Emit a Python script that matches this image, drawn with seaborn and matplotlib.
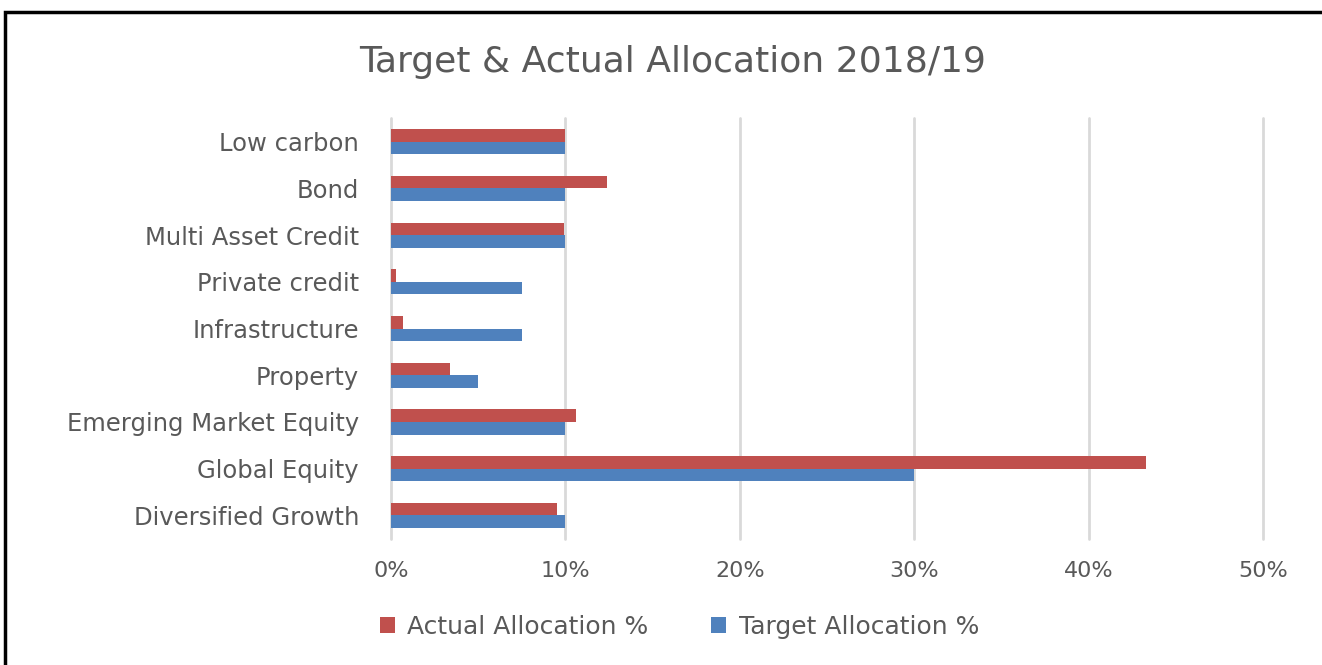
import pandas as pd
import matplotlib.pyplot as plt
import seaborn as sns
from matplotlib.patches import Rectangle
from matplotlib.ticker import PercentFormatter

categories = ["Low carbon", "Bond", "Multi Asset Credit", "Private credit",
              "Infrastructure", "Property", "Emerging Market Equity",
              "Global Equity", "Diversified Growth"]
actual = [10.0, 12.4, 9.9, 0.3, 0.7, 3.4, 10.6, 43.3, 9.5]
target = [10.0, 10.0, 10.0, 7.5, 7.5, 5.0, 10.0, 30.0, 10.0]
series = ["Actual Allocation %", "Target Allocation %"]
colors = ["#C0504D", "#4F81BD"]

df = pd.DataFrame({
    "category": categories * 2,
    "value": actual + target,
    "series": [series[0]] * len(categories) + [series[1]] * len(categories),
})

sns.set_style("white")
plt.rcParams["font.family"] = ["DejaVu Sans"]
text_color = "#595959"

fig = plt.figure(figsize=(13.22, 6.65), dpi=100)
ax = fig.add_axes([0.2958, 0.19, 0.6596, 0.632])

sns.barplot(data=df, x="value", y="category", hue="series", order=categories,
            hue_order=series, palette=colors, width=0.54, orient="h",
            ax=ax, saturation=1, edgecolor="none")

ax.set_xlim(0, 50)
ax.set_xticks([0, 10, 20, 30, 40, 50])
ax.xaxis.set_major_formatter(PercentFormatter(decimals=0))
ax.grid(axis="x", color="#D9D9D9", linewidth=2)
ax.set_axisbelow(True)
for gl in ax.get_xgridlines():
    gl.set_clip_on(False)
for s in ax.spines.values():
    s.set_visible(False)
ax.set_xlabel("")
ax.set_ylabel("")
ax.tick_params(axis="both", length=0, colors=text_color)
ax.tick_params(axis="x", pad=16, labelsize=16)
ax.tick_params(axis="y", pad=23, labelsize=17.5)

ax.get_legend().remove()
handles, labels = ax.get_legend_handles_labels()
fig.legend(handles, labels, loc="center", bbox_to_anchor=(0.514, 0.057),
           ncol=2, frameon=False, fontsize=18, labelcolor=text_color,
           handlelength=0.6, handleheight=0.6, columnspacing=2.5, handletextpad=0.5)

fig.text(0.509, 0.907, "Target & Actual Allocation 2018/19", ha="center",
         va="center", fontsize=26, color=text_color)

# outer frame (left and top edges visible in the original)
fig.patches.append(Rectangle((0.004, -0.05), 1.1, 1.032, transform=fig.transFigure,
                             fill=False, edgecolor="black", linewidth=2.5))

fig.savefig("out.png", dpi=100)
